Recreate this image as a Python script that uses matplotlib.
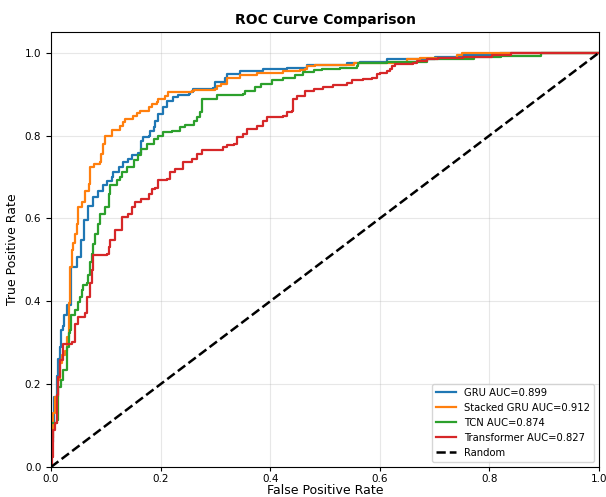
import matplotlib
matplotlib.use('Agg')
import matplotlib.pyplot as plt

# ROC points (fpr, tpr)
gru_fpr = [0.0, 0.0, 0.004, 0.006, 0.010, 0.013, 0.016, 0.018, 0.022, 0.024, 0.029, 0.036,
           0.0365, 0.041, 0.047, 0.050, 0.055, 0.061, 0.068, 0.077, 0.085, 0.094, 0.102,
           0.111, 0.114, 0.124, 0.132, 0.141, 0.148, 0.159, 0.165, 0.168, 0.178, 0.181,
           0.187, 0.190, 0.196, 0.205, 0.211, 0.223, 0.232, 0.251, 0.254, 0.259, 0.296,
           0.299, 0.314, 0.318, 0.321, 0.345, 0.387, 0.430, 0.467, 0.540, 0.564, 0.613,
           0.700, 0.750, 0.820, 1.0]
gru_tpr = [0.0, 0.06, 0.10, 0.17, 0.22, 0.26, 0.29, 0.33, 0.34, 0.366, 0.39, 0.45,
           0.483, 0.483, 0.507, 0.507, 0.547, 0.595, 0.631, 0.651, 0.667, 0.680, 0.690,
           0.700, 0.712, 0.724, 0.736, 0.744, 0.752, 0.757, 0.788, 0.797, 0.800, 0.812,
           0.820, 0.836, 0.852, 0.868, 0.884, 0.892, 0.898, 0.900, 0.904, 0.912, 0.915,
           0.929, 0.929, 0.940, 0.948, 0.955, 0.960, 0.964, 0.970, 0.974, 0.978, 0.984,
           0.990, 0.994, 1.0, 1.0]

sgru_fpr = [0.0, 0.0, 0.004, 0.008, 0.012, 0.016, 0.020, 0.025, 0.030, 0.033, 0.035,
            0.038, 0.041, 0.044, 0.047, 0.050, 0.057, 0.062, 0.069, 0.071, 0.079, 0.089,
            0.091, 0.095, 0.099, 0.111, 0.126, 0.132, 0.135, 0.150, 0.156, 0.162, 0.178,
            0.184, 0.193, 0.196, 0.208, 0.214, 0.257, 0.260, 0.299, 0.302, 0.311, 0.321,
            0.345, 0.375, 0.424, 0.454, 0.464, 0.467, 0.482, 0.546, 0.552, 0.561, 0.613,
            0.649, 0.673, 0.740, 0.750, 1.0]
sgru_tpr = [0.0, 0.07, 0.13, 0.17, 0.21, 0.25, 0.27, 0.28, 0.314, 0.395, 0.483,
            0.523, 0.540, 0.563, 0.587, 0.627, 0.639, 0.667, 0.684, 0.724, 0.731, 0.736,
            0.756, 0.780, 0.800, 0.814, 0.822, 0.832, 0.840, 0.848, 0.854, 0.859, 0.868,
            0.875, 0.881, 0.888, 0.896, 0.904, 0.907, 0.911, 0.913, 0.920, 0.925, 0.940,
            0.946, 0.951, 0.955, 0.958, 0.960, 0.968, 0.970, 0.970, 0.974, 0.976, 0.976,
            0.984, 0.988, 0.994, 1.0, 1.0]

tcn_fpr = [0.0, 0.0, 0.010, 0.013, 0.019, 0.022, 0.029, 0.032, 0.035, 0.036, 0.044,
           0.050, 0.053, 0.056, 0.059, 0.065, 0.068, 0.071, 0.074, 0.076, 0.080, 0.086,
           0.089, 0.099, 0.105, 0.108, 0.120, 0.126, 0.129, 0.138, 0.148, 0.152, 0.159,
           0.165, 0.175, 0.187, 0.196, 0.205, 0.220, 0.235, 0.245, 0.260, 0.266, 0.272,
           0.275, 0.299, 0.302, 0.351, 0.354, 0.372, 0.384, 0.403, 0.424, 0.445, 0.460,
           0.479, 0.494, 0.527, 0.558, 0.561, 0.613, 0.686, 0.771, 0.822, 0.895, 1.0]
tcn_tpr = [0.0, 0.105, 0.113, 0.193, 0.21, 0.234, 0.29, 0.323, 0.33, 0.366, 0.378,
           0.398, 0.41, 0.427, 0.439, 0.443, 0.463, 0.495, 0.515, 0.539, 0.563, 0.587,
           0.611, 0.627, 0.659, 0.680, 0.692, 0.700, 0.712, 0.724, 0.725, 0.740, 0.752,
           0.768, 0.780, 0.792, 0.800, 0.808, 0.812, 0.820, 0.826, 0.836, 0.844, 0.856,
           0.888, 0.888, 0.899, 0.900, 0.908, 0.916, 0.925, 0.933, 0.939, 0.945, 0.953,
           0.958, 0.960, 0.964, 0.968, 0.976, 0.978, 0.984, 0.990, 0.992, 1.0, 1.0]

tr_fpr = [0.0, 0.002, 0.004, 0.007, 0.010, 0.013, 0.016, 0.022, 0.038, 0.041, 0.044,
          0.050, 0.062, 0.065, 0.071, 0.074, 0.077, 0.102, 0.105, 0.108, 0.117, 0.126,
          0.129, 0.141, 0.147, 0.153, 0.165, 0.178, 0.184, 0.190, 0.196, 0.211, 0.217,
          0.226, 0.241, 0.257, 0.266, 0.275, 0.314, 0.321, 0.333, 0.339, 0.351, 0.357,
          0.375, 0.387, 0.394, 0.424, 0.430, 0.439, 0.442, 0.448, 0.464, 0.479, 0.497,
          0.515, 0.540, 0.549, 0.570, 0.585, 0.594, 0.600, 0.613, 0.619, 0.622, 0.628,
          0.661, 0.667, 0.686, 0.707, 0.752, 0.804, 0.840, 1.0]
tr_tpr = [0.0, 0.025, 0.089, 0.105, 0.173, 0.218, 0.258, 0.298, 0.302, 0.302, 0.346,
          0.362, 0.372, 0.41, 0.443, 0.475, 0.511, 0.515, 0.531, 0.547, 0.571, 0.571,
          0.603, 0.611, 0.627, 0.639, 0.647, 0.659, 0.671, 0.674, 0.692, 0.696, 0.712,
          0.720, 0.736, 0.744, 0.756, 0.766, 0.773, 0.776, 0.780, 0.796, 0.804, 0.816,
          0.824, 0.836, 0.844, 0.848, 0.856, 0.860, 0.888, 0.896, 0.908, 0.912, 0.916,
          0.923, 0.926, 0.933, 0.937, 0.940, 0.948, 0.952, 0.955, 0.960, 0.968, 0.972,
          0.976, 0.980, 0.984, 0.986, 0.990, 0.995, 1.0, 1.0]

names = ['GRU', 'Stacked GRU', 'TCN', 'Transformer']
aucs = [0.899, 0.912, 0.874, 0.827]
colors = ['#1f77b4', '#ff7f0e', '#2ca02c', '#d62728']
curves = [(gru_fpr, gru_tpr), (sgru_fpr, sgru_tpr), (tcn_fpr, tcn_tpr), (tr_fpr, tr_tpr)]

fig = plt.figure(figsize=(6.06, 4.97), dpi=100)
ax = fig.add_axes([0.0842, 0.0604, 0.9043, 0.8753])

for (f, t), n, a, c in zip(curves, names, aucs, colors):
    ax.plot(f, t, drawstyle='steps-post', color=c, lw=1.6, label=f'{n} AUC={a:.3f}')
ax.plot([0, 1], [0, 1], 'k--', lw=1.8, label='Random')

ax.set_xlim(0, 1)
ax.set_ylim(0, 1.05)
ax.grid(True, alpha=0.3)
ax.set_title('ROC Curve Comparison', fontsize=10, fontweight='bold')
ax.set_xlabel('False Positive Rate', fontsize=9, labelpad=0)
ax.set_ylabel('True Positive Rate', fontsize=9)
ax.tick_params(labelsize=7.5)
ax.tick_params(axis='x', length=3, pad=2)
ax.legend(loc='lower right', fontsize=7.2)

fig.savefig('out.png', dpi=100)
